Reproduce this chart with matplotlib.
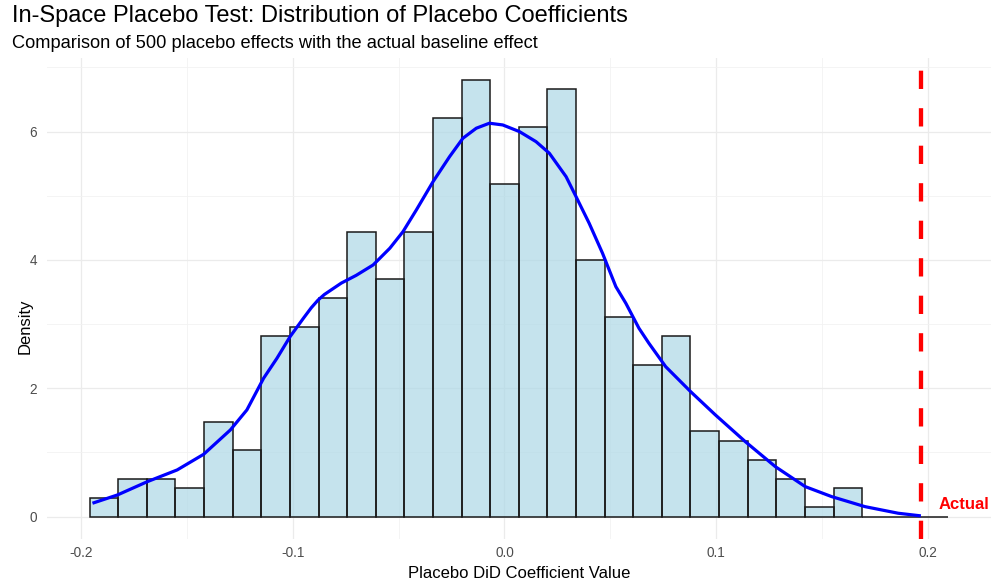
import matplotlib
matplotlib.use('Agg')
import matplotlib.pyplot as plt
from matplotlib.ticker import MultipleLocator

plt.rcParams['font.family'] = ['Liberation Sans', 'DejaVu Sans']

# ---- data ----
bin_edges = [-0.1958, -0.1823, -0.1688, -0.1553, -0.1418, -0.1283, -0.1148, -0.1013,
             -0.0877, -0.0742, -0.0607, -0.0472, -0.0337, -0.0202, -0.0067, 0.0068,
             0.0203, 0.0338, 0.0473, 0.0608, 0.0743, 0.0878, 0.1013, 0.1149,
             0.1284, 0.1419, 0.1554, 0.1689, 0.1824, 0.1959, 0.2094]
bar_density = [0.296, 0.592, 0.592, 0.444, 1.481, 1.036, 2.813, 2.961, 3.406, 4.442,
               3.702, 4.442, 6.219, 6.811, 5.182, 6.071, 6.663, 3.998, 3.109, 2.369,
               2.813, 1.333, 1.185, 0.888, 0.592, 0.148, 0.444, 0.0, 0.0, 0.0]

kde_x = [-0.1945, -0.1827, -0.1686, -0.1545, -0.1420, -0.1294, -0.1216, -0.1137,
         -0.1074, -0.1012, -0.0949, -0.0912, -0.0880, -0.0850, -0.0815, -0.0770, -0.0700,
         -0.0620, -0.0541, -0.0479, -0.0416, -0.0337, -0.0259, -0.0196, -0.0133,
         -0.0071, -0.0008, 0.0071, 0.0149, 0.0212, 0.0291, 0.0338, 0.0400,
         0.0463, 0.0526, 0.0573, 0.0635, 0.0682, 0.0761, 0.0879, 0.0996,
         0.1137, 0.1279, 0.1420, 0.1545, 0.1702, 0.1859, 0.1966]
kde_y = [0.209, 0.338, 0.545, 0.728, 0.972, 1.351, 1.663, 2.157,
         2.468, 2.805, 3.092, 3.255, 3.375, 3.462, 3.540, 3.640, 3.760,
         3.922, 4.183, 4.441, 4.779, 5.221, 5.610, 5.897, 6.053,
         6.131, 6.104, 6.000, 5.844, 5.663, 5.298, 4.987, 4.572,
         4.105, 3.584, 3.326, 2.936, 2.702, 2.338, 1.948, 1.585,
         1.169, 0.779, 0.468, 0.312, 0.156, 0.053, 0.012]

actual_value = 0.1966
actual_label = "Actual"

title = "In-Space Placebo Test: Distribution of Placebo Coefficients"
subtitle = "Comparison of 500 placebo effects with the actual baseline effect"
x_label = "Placebo DiD Coefficient Value"
y_label = "Density"

# ---- figure ----
W, H = 992, 586
fig = plt.figure(figsize=(W / 100, H / 100), dpi=100)
left_px, right_px, top_px, bot_px = 46.7, 991.0, 57.7, 538.5
ax = fig.add_axes([left_px / W, 1 - bot_px / H, (right_px - left_px) / W, (bot_px - top_px) / H])

lefts = bin_edges[:-1]
widths = [b - a for a, b in zip(bin_edges[:-1], bin_edges[1:])]
ax.bar(lefts, bar_density, width=widths, align='edge', color='#ADD8E6', alpha=0.7,
       edgecolor='none', zorder=2)
ax.bar(lefts, bar_density, width=widths, align='edge', facecolor='none',
       edgecolor='#1a1a1a', linewidth=1.1, zorder=3)

ax.plot(kde_x, kde_y, color='blue', linewidth=2.3, zorder=4,
        solid_capstyle='butt', solid_joinstyle='round')

ax.axvline(actual_value, color='red', linewidth=3.1, linestyle=(0, (4.25, 4.46)), zorder=5)
ax.text(actual_value + 0.0085, 0.12, actual_label, color='red', fontsize=12,
        fontweight='bold', ha='left', va='baseline', zorder=6)

ax.set_xlim(-0.2161, 0.2297)
ax.set_ylim(-0.3406, 7.152)

ax.xaxis.set_minor_locator(MultipleLocator(0.05))
ax.yaxis.set_minor_locator(MultipleLocator(1))
ax.set_xticks([-0.2, -0.1, 0.0, 0.1, 0.2])
ax.set_xticklabels(['-0.2', '-0.1', '0.0', '0.1', '0.2'])
ax.set_yticks([0, 2, 4, 6])
ax.set_yticklabels(['0', '2', '4', '6'])

ax.grid(which='major', color='#EBEBEB', linewidth=0.9, zorder=0)
ax.grid(which='minor', color='#F2F2F2', linewidth=0.6, zorder=0)
ax.set_axisbelow(True)
for s in ax.spines.values():
    s.set_visible(False)
ax.tick_params(which='both', length=0)
ax.tick_params(axis='x', pad=5.2, labelsize=9.8, labelcolor='#4D4D4D')
ax.tick_params(axis='y', pad=6.8, labelsize=9.8, labelcolor='#4D4D4D')

fig.text(12 / W, 1 - 22 / H, title, fontsize=17, ha='left', va='baseline', color='black')
fig.text(12 / W, 1 - 48.5 / H, subtitle, fontsize=13.15, ha='left', va='baseline', color='black')
fig.text((left_px + right_px) / 2 / W, 1 - 578.5 / H, x_label, fontsize=12, ha='center',
         va='baseline', color='black')
fig.text(25.5 / W, 1 - 298 / H, y_label, fontsize=12, ha='right', va='center',
         rotation=90, rotation_mode='anchor', color='black')

fig.savefig('out.png', dpi=100)
